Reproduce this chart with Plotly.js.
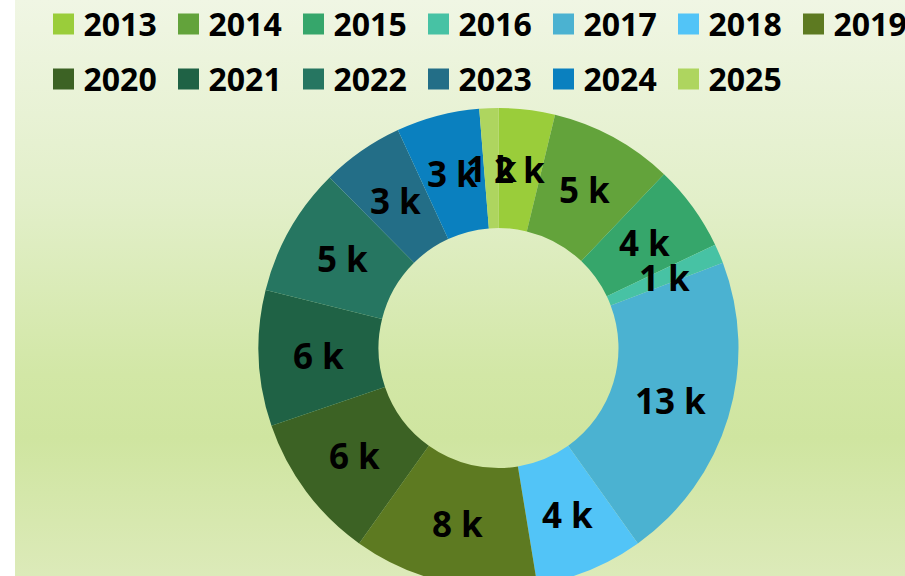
<!DOCTYPE html>
<html>
<head>
<meta charset="utf-8">
<script src="https://cdn.plot.ly/plotly-3.0.1.min.js"></script>
<style>
  html, body { margin: 0; padding: 0; background: #ffffff; overflow: hidden; }
  #wrap {
    position: absolute; left: 15px; top: 0; width: 890px; height: 576px; overflow: hidden;
    background: linear-gradient(to bottom, #f0f6e4 0%, #e2efc9 35%, #d2e7a6 65%, #cfe5a0 76%, #dceab9 100%);
  }
  #chart { position: absolute; left: 0; top: 0; width: 945px; height: 620px; }
</style>
</head>
<body>
<div id="wrap"><div id="chart"></div></div>
<script>
// ---- data ----
const years = ['2013','2014','2015','2016','2017','2018','2019','2020','2021','2022','2023','2024','2025'];
const counts = [2310, 5080, 3540, 800, 12760, 4440, 7590, 6030, 5580, 5300, 3380, 3420, 780];
const sliceColors = ['#9acd3a','#63a33b','#36a66b','#47c2a4','#4bb2d1','#52c4f7','#5d7a21',
                     '#3c6224','#1f6245','#267661','#236e87','#0a80bf','#aed55f'];

// ---- geometry / style ----
const W = 945, H = 620;
const CX = 483.5, CY = 348, R = 240, HOLE = 0.5;
const labelFont = {family: 'Open Sans, sans-serif', size: 35, color: '#000000', weight: 'bold'};

const total = counts.reduce((a, b) => a + b, 0);
const annotations = [];
let cum = 0;
const rMid = R * (1 + HOLE) / 2;
counts.forEach((v) => {
  const frac = (cum + v / 2) / total;
  cum += v;
  const th = 2 * Math.PI * frac;
  const px = CX + rMid * Math.sin(th);
  const py = CY - rMid * Math.cos(th);
  annotations.push({
    xref: 'paper', yref: 'paper', x: px / W, y: 1 - py / H,
    xanchor: 'center', yanchor: 'middle', showarrow: false,
    text: Math.round(v / 1000) + ' k', font: labelFont
  });
});

const trace = {
  type: 'pie',
  labels: years.map(y => '<span style="font-size:32px">' + y + '</span>'),
  values: counts,
  sort: false,
  direction: 'clockwise',
  rotation: 0,
  hole: HOLE,
  marker: {colors: sliceColors, line: {width: 0}},
  textinfo: 'none',
  hoverinfo: 'none',
  domain: {x: [(CX - R) / W, (CX + R) / W], y: [(H - CY - R) / H, (H - CY + R) / H]}
};

const layout = {
  width: W, height: H,
  margin: {l: 0, r: 0, t: 0, b: 0, autoexpand: false},
  paper_bgcolor: 'rgba(0,0,0,0)',
  plot_bgcolor: 'rgba(0,0,0,0)',
  showlegend: true,
  legend: {
    orientation: 'h',
    x: 28.5 / W, xanchor: 'left',
    y: 1 + 12.5 / H, yanchor: 'top',
    entrywidth: 80, entrywidthmode: 'pixels',
    font: {family: 'Open Sans, sans-serif', size: 40, color: '#000000', weight: 'bold'},
    bgcolor: 'rgba(0,0,0,0)', borderwidth: 0
  },
  annotations: annotations
};

Plotly.newPlot('chart', [trace], layout, {staticPlot: true, displayModeBar: false}).then(function (gd) {
  gd.querySelectorAll('.legend .legendpoints path').forEach(function (p) {
    p.setAttribute('d', 'M10.5,14.5H-10.5V-6.5H10.5Z');
  });
});
</script>
</body>
</html>
